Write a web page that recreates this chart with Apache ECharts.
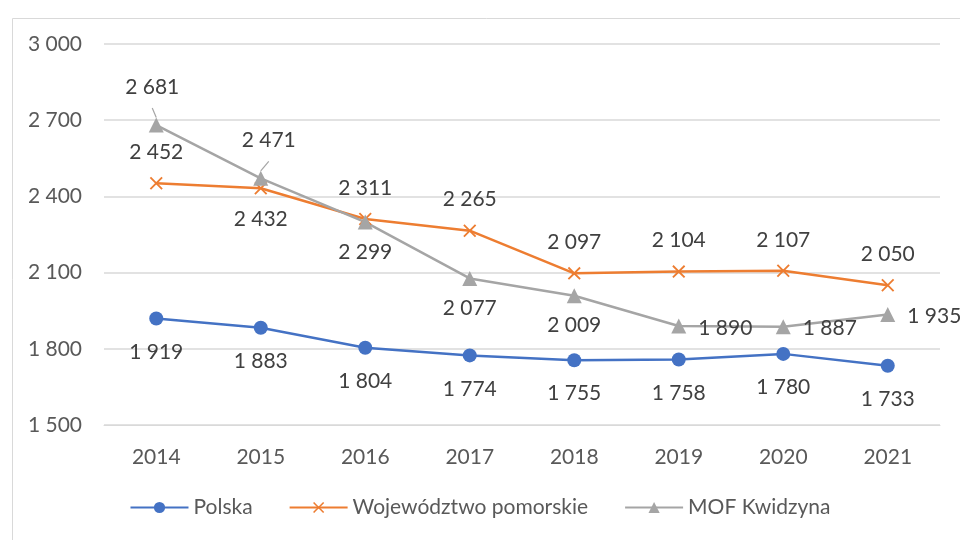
<!DOCTYPE html>
<html>
<head>
<meta charset="utf-8">
<script src="https://cdn.jsdelivr.net/npm/echarts@6/dist/echarts.min.js"></script>
<style>
  html, body { margin: 0; padding: 0; background: #fff; }
  #chart { width: 960px; height: 540px; }
</style>
</head>
<body>
<div id="chart"></div>
<script>
const years = ['2014', '2015', '2016', '2017', '2018', '2019', '2020', '2021']
const polska = [1919, 1883, 1804, 1774, 1755, 1758, 1780, 1733]
const pomorskie = [2452, 2432, 2311, 2265, 2097, 2104, 2107, 2050]
const kwidzyn = [2681, 2471, 2299, 2077, 2009, 1890, 1887, 1935]

// liczby z odstępem tysięcy, jak w Excelu
const fmt = v => String(v).replace(/\B(?=(\d{3})+(?!\d))/g, ' ')

const crossPath = 'path://M0,1L1,0L5,4L9,0L10,1L6,5L10,9L9,10L5,6L1,10L0,9L4,5Z'
const font = 'Lato'
const fs = 21
const txt = '#404040'

const labelFor = (pos, extra) => Object.assign({
    show: true, position: pos, distance: 12, fontSize: fs, fontFamily: font, color: txt,
    formatter: p => fmt(p.value)
}, extra || {})

// pozycje etykiet dla kolejnych punktów
const pomPos = ['top', 'bottom', 'top', 'top', 'top', 'top', 'top', 'top']
const kwPos = ['top', 'top', 'bottom', 'bottom', 'bottom', 'right', 'right', 'right']

const chart = echarts.init(document.getElementById('chart'))
chart.setOption({
    animation: false,
    textStyle: { fontFamily: font },
    graphic: [{
        type: 'rect', left: 10, top: 16, shape: { width: 1000, height: 600 },
        style: { fill: 'none', stroke: '#d9d9d9', lineWidth: 1 }, silent: true
    }],
    grid: { left: 104, right: 20, top: 44, bottom: 115 },
    legend: {
        bottom: 17, itemWidth: 58, itemHeight: 14, itemGap: 36,
        textStyle: { fontSize: fs, color: '#595959', fontFamily: font }
    },
    xAxis: {
        type: 'category', data: years, boundaryGap: true,
        axisLine: { lineStyle: { color: '#d9d9d9' } }, axisTick: { show: false },
        axisLabel: { fontSize: fs, color: '#595959', margin: 22 }
    },
    yAxis: {
        type: 'value', min: 1500, max: 3000, interval: 300,
        axisLine: { show: false }, axisTick: { show: false },
        splitLine: { lineStyle: { color: '#d9d9d9', width: 1.5 } },
        axisLabel: { fontSize: fs, color: '#595959', margin: 22, formatter: fmt }
    },
    series: [
        {
            name: 'Polska', type: 'line', data: polska,
            symbol: 'circle', symbolSize: 14,
            lineStyle: { color: '#4472C4', width: 2.5 },
            itemStyle: { color: '#4472C4' },
            label: labelFor('bottom', { distance: 16 })
        },
        {
            name: 'Województwo pomorskie', type: 'line',
            data: pomorskie.map((v, i) => ({ value: v, label: labelFor(pomPos[i], { distance: 14 }) })),
            symbol: crossPath, symbolSize: 13,
            lineStyle: { color: '#ED7D31', width: 2.5 },
            itemStyle: { color: '#ED7D31' }
        },
        {
            name: 'MOF Kwidzyna', type: 'line',
            data: kwidzyn.map((v, i) => {
                let extra = { distance: 12 }
                if (i === 0) extra = { distance: 20, offset: [-4, 0] }
                if (i === 1) extra = { distance: 20, offset: [8, 0] }
                if (kwPos[i] === 'right') extra = { distance: 12, offset: [0, 2] }
                return {
                    value: v, label: labelFor(kwPos[i], extra),
                    labelLine: { show: i < 2, lineStyle: { color: '#a5a5a5', width: 1.2 } }
                }
            }),
            symbol: 'triangle', symbolSize: 15,
            lineStyle: { color: '#A5A5A5', width: 2.5 },
            itemStyle: { color: '#A5A5A5' }
        }
    ]
})
</script>
</body>
</html>
